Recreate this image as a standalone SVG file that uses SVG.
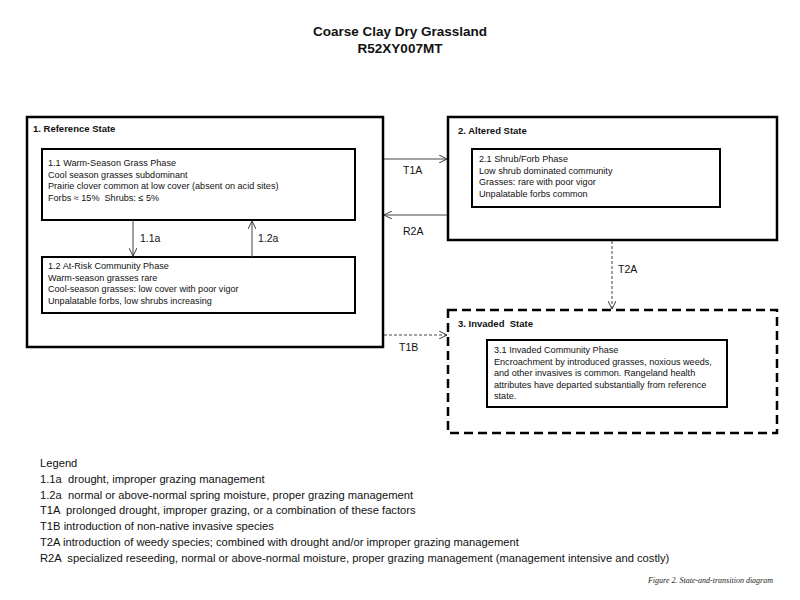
<svg xmlns="http://www.w3.org/2000/svg" width="800" height="600" viewBox="0 0 800 600">
<defs>
<marker id="arr" viewBox="0 0 10 10" refX="10" refY="5" markerWidth="8" markerHeight="8" markerUnits="userSpaceOnUse" orient="auto">
<path d="M0,0 L10,5 L0,10" fill="none" stroke="#333" stroke-width="1.2"/>
</marker>
<style>
text{font-family:"Liberation Sans",Arial,sans-serif;fill:#111;white-space:pre}
.t{font-size:13.5px;font-weight:bold}
.st{font-size:9.5px;font-weight:bold}
.p{font-size:9.1px}
.lab{font-size:10.5px}
.lg{font-size:11.2px}
.cap{font-family:"Liberation Serif",serif;font-style:italic;font-size:8px;fill:#222}
.state{fill:#fff;stroke:#000;stroke-width:2.5}
.phase{fill:#fff;stroke:#000;stroke-width:2}
.dash{stroke-dasharray:9 5}
.c{stroke:#444;stroke-width:1;fill:none}
.cd{stroke:#444;stroke-width:1;fill:none;stroke-dasharray:3 2}
</style>
</defs>
<rect width="800" height="600" fill="#fff"/>
<g id="title">
<text class="t" x="400" y="36" text-anchor="middle">Coarse Clay Dry Grassland</text>
<text class="t" x="400" y="53" text-anchor="middle">R52XY007MT</text>
</g>
<g id="state1">
<rect class="state" x="27" y="117" width="356" height="230"/>
<text class="st" x="33" y="132">1. Reference State</text>
</g>
<g id="phase11">
<rect class="phase" x="42" y="149" width="313" height="71"/>
<text class="p" x="48" y="166">1.1 Warm-Season Grass Phase</text>
<text class="p" x="48" y="177.5">Cool season grasses subdominant</text>
<text class="p" x="48" y="189">Prairie clover common at low cover (absent on acid sites)</text>
<text class="p" x="48" y="200.5">Forbs ≈ 15%  Shrubs: ≤ 5%</text>
</g>
<g id="phase12">
<rect class="phase" x="42" y="257" width="313" height="56"/>
<text class="p" x="48" y="269">1.2 At-Risk Community Phase</text>
<text class="p" x="48" y="280.5">Warm-season grasses rare</text>
<text class="p" x="48" y="292">Cool-season grasses: low cover with poor vigor</text>
<text class="p" x="48" y="303.5">Unpalatable forbs, low shrubs increasing</text>
</g>
<g id="state2">
<rect class="state" x="448" y="117" width="329" height="123"/>
<text class="st" x="458" y="134">2. Altered State</text>
</g>
<g id="phase21">
<rect class="phase" x="472" y="149" width="248" height="58"/>
<text class="p" x="479" y="162">2.1 Shrub/Forb Phase</text>
<text class="p" x="479" y="173.5">Low shrub dominated community</text>
<text class="p" x="479" y="185">Grasses: rare with poor vigor</text>
<text class="p" x="479" y="196.5">Unpalatable forbs common</text>
</g>
<g id="state3">
<rect class="state dash" x="448" y="310" width="329" height="123"/>
<text class="st" x="458" y="327">3. Invaded  State</text>
</g>
<g id="phase31">
<rect class="phase" x="487" y="340" width="240" height="67"/>
<text class="p" x="494" y="353">3.1 Invaded Community Phase</text>
<text class="p" x="494" y="364.5">Encroachment by introduced grasses, noxious weeds,</text>
<text class="p" x="494" y="376">and other invasives is common. Rangeland health</text>
<text class="p" x="494" y="387.5">attributes have departed substantially from reference</text>
<text class="p" x="494" y="399">state.</text>
</g>
<g id="connectors">
<line class="c" x1="133" y1="220" x2="133" y2="256" marker-end="url(#arr)"/>
<line class="c" x1="252" y1="257" x2="252" y2="221" marker-end="url(#arr)"/>
<line class="c" x1="384" y1="159" x2="447" y2="159" marker-end="url(#arr)"/>
<line class="c" x1="447" y1="215" x2="384" y2="215" marker-end="url(#arr)"/>
<line class="cd" x1="612" y1="241" x2="612" y2="309" marker-end="url(#arr)"/>
<line class="cd" x1="384" y1="335" x2="447" y2="335" marker-end="url(#arr)"/>
<text class="lab" x="140" y="242">1.1a</text>
<text class="lab" x="258" y="242">1.2a</text>
<text class="lab" x="403" y="174">T1A</text>
<text class="lab" x="403" y="235">R2A</text>
<text class="lab" x="618" y="273">T2A</text>
<text class="lab" x="399" y="351">T1B</text>
</g>
<g id="legend">
<text class="lg" x="40" y="467">Legend</text>
<text class="lg" x="40" y="483">1.1a  drought, improper grazing management</text>
<text class="lg" x="40" y="499">1.2a  normal or above-normal spring moisture, proper grazing management</text>
<text class="lg" x="40" y="514">T1A  prolonged drought, improper grazing, or a combination of these factors</text>
<text class="lg" x="40" y="530">T1B introduction of non-native invasive species</text>
<text class="lg" x="40" y="546">T2A introduction of weedy species; combined with drought and/or improper grazing management</text>
<text class="lg" x="40" y="562">R2A  specialized reseeding, normal or above-normal moisture, proper grazing management (management intensive and costly)</text>
<text class="cap" x="773" y="583" text-anchor="end">Figure 2. State-and-transition diagram</text>
</g>
</svg>
